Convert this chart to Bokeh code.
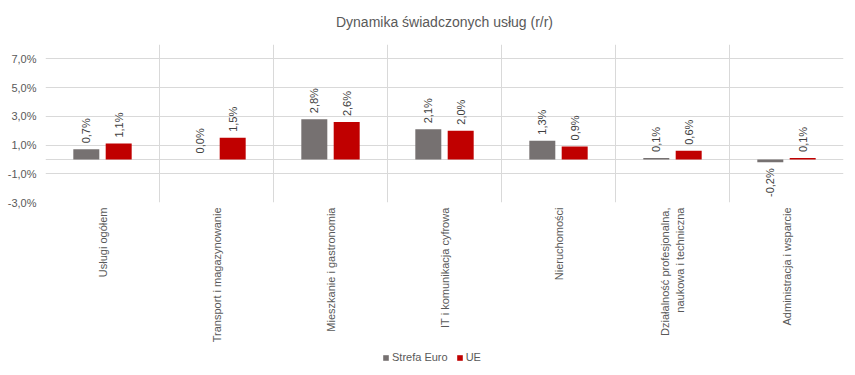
import math
import numpy as np
from bokeh.plotting import figure
from bokeh.layouts import column
from bokeh.models import ColumnDataSource, FixedTicker, Legend, LegendItem
from bokeh.core.properties import value
from bokeh.embed import file_html
from bokeh.resources import INLINE

categories = [
    "Usługi ogółem",
    "Transport i magazynowanie",
    "Mieszkanie i gastronomia",
    "IT i komunikacja cyfrowa",
    "Nieruchomości",
    "Działalność profesjonalna,\nnaukowa i techniczna",
    "Administracja i wsparcie",
]
strefa_euro = [0.7, 0.0, 2.8, 2.1, 1.3, 0.1, -0.2]
ue = [1.1, 1.5, 2.6, 2.0, 0.9, 0.6, 0.1]
y_ticks = [-3, -1, 1, 3, 5, 7]
y_tick_labels = ["-3,0%", "-1,0%", "1,0%", "3,0%", "5,0%", "7,0%"]
series_names = ["Strefa Euro", "UE"]
colors = ["#767171", "#C00000"]

FONT = "Liberation Sans"
n = len(categories)
centers = np.arange(n) + 0.5
offset = 0.142
bar_w = 0.228

p = figure(width=855, height=345, output_backend="svg", toolbar_location=None,
           x_range=(0, n), y_range=(-3, 8),
           min_border_left=45, min_border_right=12, min_border_top=44, min_border_bottom=143,
           title="Dynamika świadczonych usług (r/r)")
p.outline_line_color = None
p.background_fill_color = "white"
p.title.align = "center"
p.title.vertical_align = "top"
p.title.offset = -16
p.title.text_font = FONT
p.title.text_font_size = "14px"
p.title.text_font_style = "normal"
p.title.text_color = "#595959"
p.title.standoff = 25

# grids
p.xgrid.ticker = FixedTicker(ticks=list(range(n + 1)))
p.xgrid.grid_line_color = "#D9D9D9"
p.ygrid.ticker = FixedTicker(ticks=sorted(y_ticks + [0]))
p.ygrid.grid_line_color = "#D9D9D9"

# axes
p.xaxis.ticker = FixedTicker(ticks=list(centers))
p.xaxis.major_label_overrides = {float(c): lab for c, lab in zip(centers, categories)}
p.xaxis.major_label_orientation = math.pi / 2
p.xaxis.axis_line_color = None
p.xaxis.major_tick_line_color = None
p.xaxis.minor_tick_line_color = None
p.xaxis.major_tick_out = 0
p.xaxis.major_label_standoff = 5
p.xaxis.major_label_text_font = FONT
p.xaxis.major_label_text_font_size = "11px"
p.xaxis.major_label_text_color = "#595959"

p.yaxis.ticker = FixedTicker(ticks=y_ticks)
p.yaxis.major_label_overrides = {t: lab for t, lab in zip(y_ticks, y_tick_labels)}
p.yaxis.axis_line_color = None
p.yaxis.major_tick_line_color = None
p.yaxis.minor_tick_line_color = None
p.yaxis.major_tick_out = 0
p.yaxis.major_label_standoff = 9
p.yaxis.major_label_text_font = FONT
p.yaxis.major_label_text_font_size = "11px"
p.yaxis.major_label_text_color = "#595959"

# legend strip (its frame is aligned with the main figure's frame by the column layout)
pl = figure(width=855, height=30, output_backend="svg", toolbar_location=None,
            x_range=(0, 1), y_range=(0, 1), min_border=0)
pl.outline_line_color = None
pl.xaxis.visible = False
pl.yaxis.visible = False
pl.xgrid.visible = False
pl.ygrid.visible = False

items = []
for i, (vals, name, col) in enumerate(zip([strefa_euro, ue], series_names, colors)):
    xs = centers + (-offset if i == 0 else offset)
    src = ColumnDataSource(dict(x=xs, top=vals))
    p.vbar(x="x", top="top", bottom=0, width=bar_w, source=src,
           fill_color=col, line_color=None)
    # off-screen proxy renderer only used to draw the legend swatch
    dummy = pl.vbar(x=[0.5], top=[-5], bottom=-6, width=0.1, fill_color=col, line_color=None)
    items.append(LegendItem(label=name, renderers=[dummy]))

    labels = [f"{v:.1f}".replace(".", ",") + "%" for v in vals]
    pos = [k for k, v in enumerate(vals) if v >= 0]
    neg = [k for k, v in enumerate(vals) if v < 0]
    if pos:
        sp = ColumnDataSource(dict(x=xs[pos], y=[vals[k] for k in pos], t=[labels[k] for k in pos]))
        p.text(x="x", y="y", text="t", source=sp, angle=math.pi / 2, text_align="left",
               text_baseline="middle", y_offset=-6, text_font=value(FONT),
               text_font_size="11px", text_color="#404040")
    if neg:
        sn = ColumnDataSource(dict(x=xs[neg], y=[vals[k] for k in neg], t=[labels[k] for k in neg]))
        p.text(x="x", y="y", text="t", source=sn, angle=math.pi / 2, text_align="right",
               text_baseline="middle", y_offset=6, text_font=value(FONT),
               text_font_size="11px", text_color="#404040")

legend = Legend(items=items, orientation="horizontal", location=(337, 12),
                glyph_width=7, glyph_height=7, label_standoff=3, spacing=8,
                padding=0, margin=0, label_height=12,
                label_text_font=FONT, label_text_font_size="11px", label_text_color="#595959",
                background_fill_alpha=0, border_line_color=None)
pl.add_layout(legend, "center")

layout = column(p, pl, spacing=0)
open("out.html", "w").write(file_html(layout, INLINE))
